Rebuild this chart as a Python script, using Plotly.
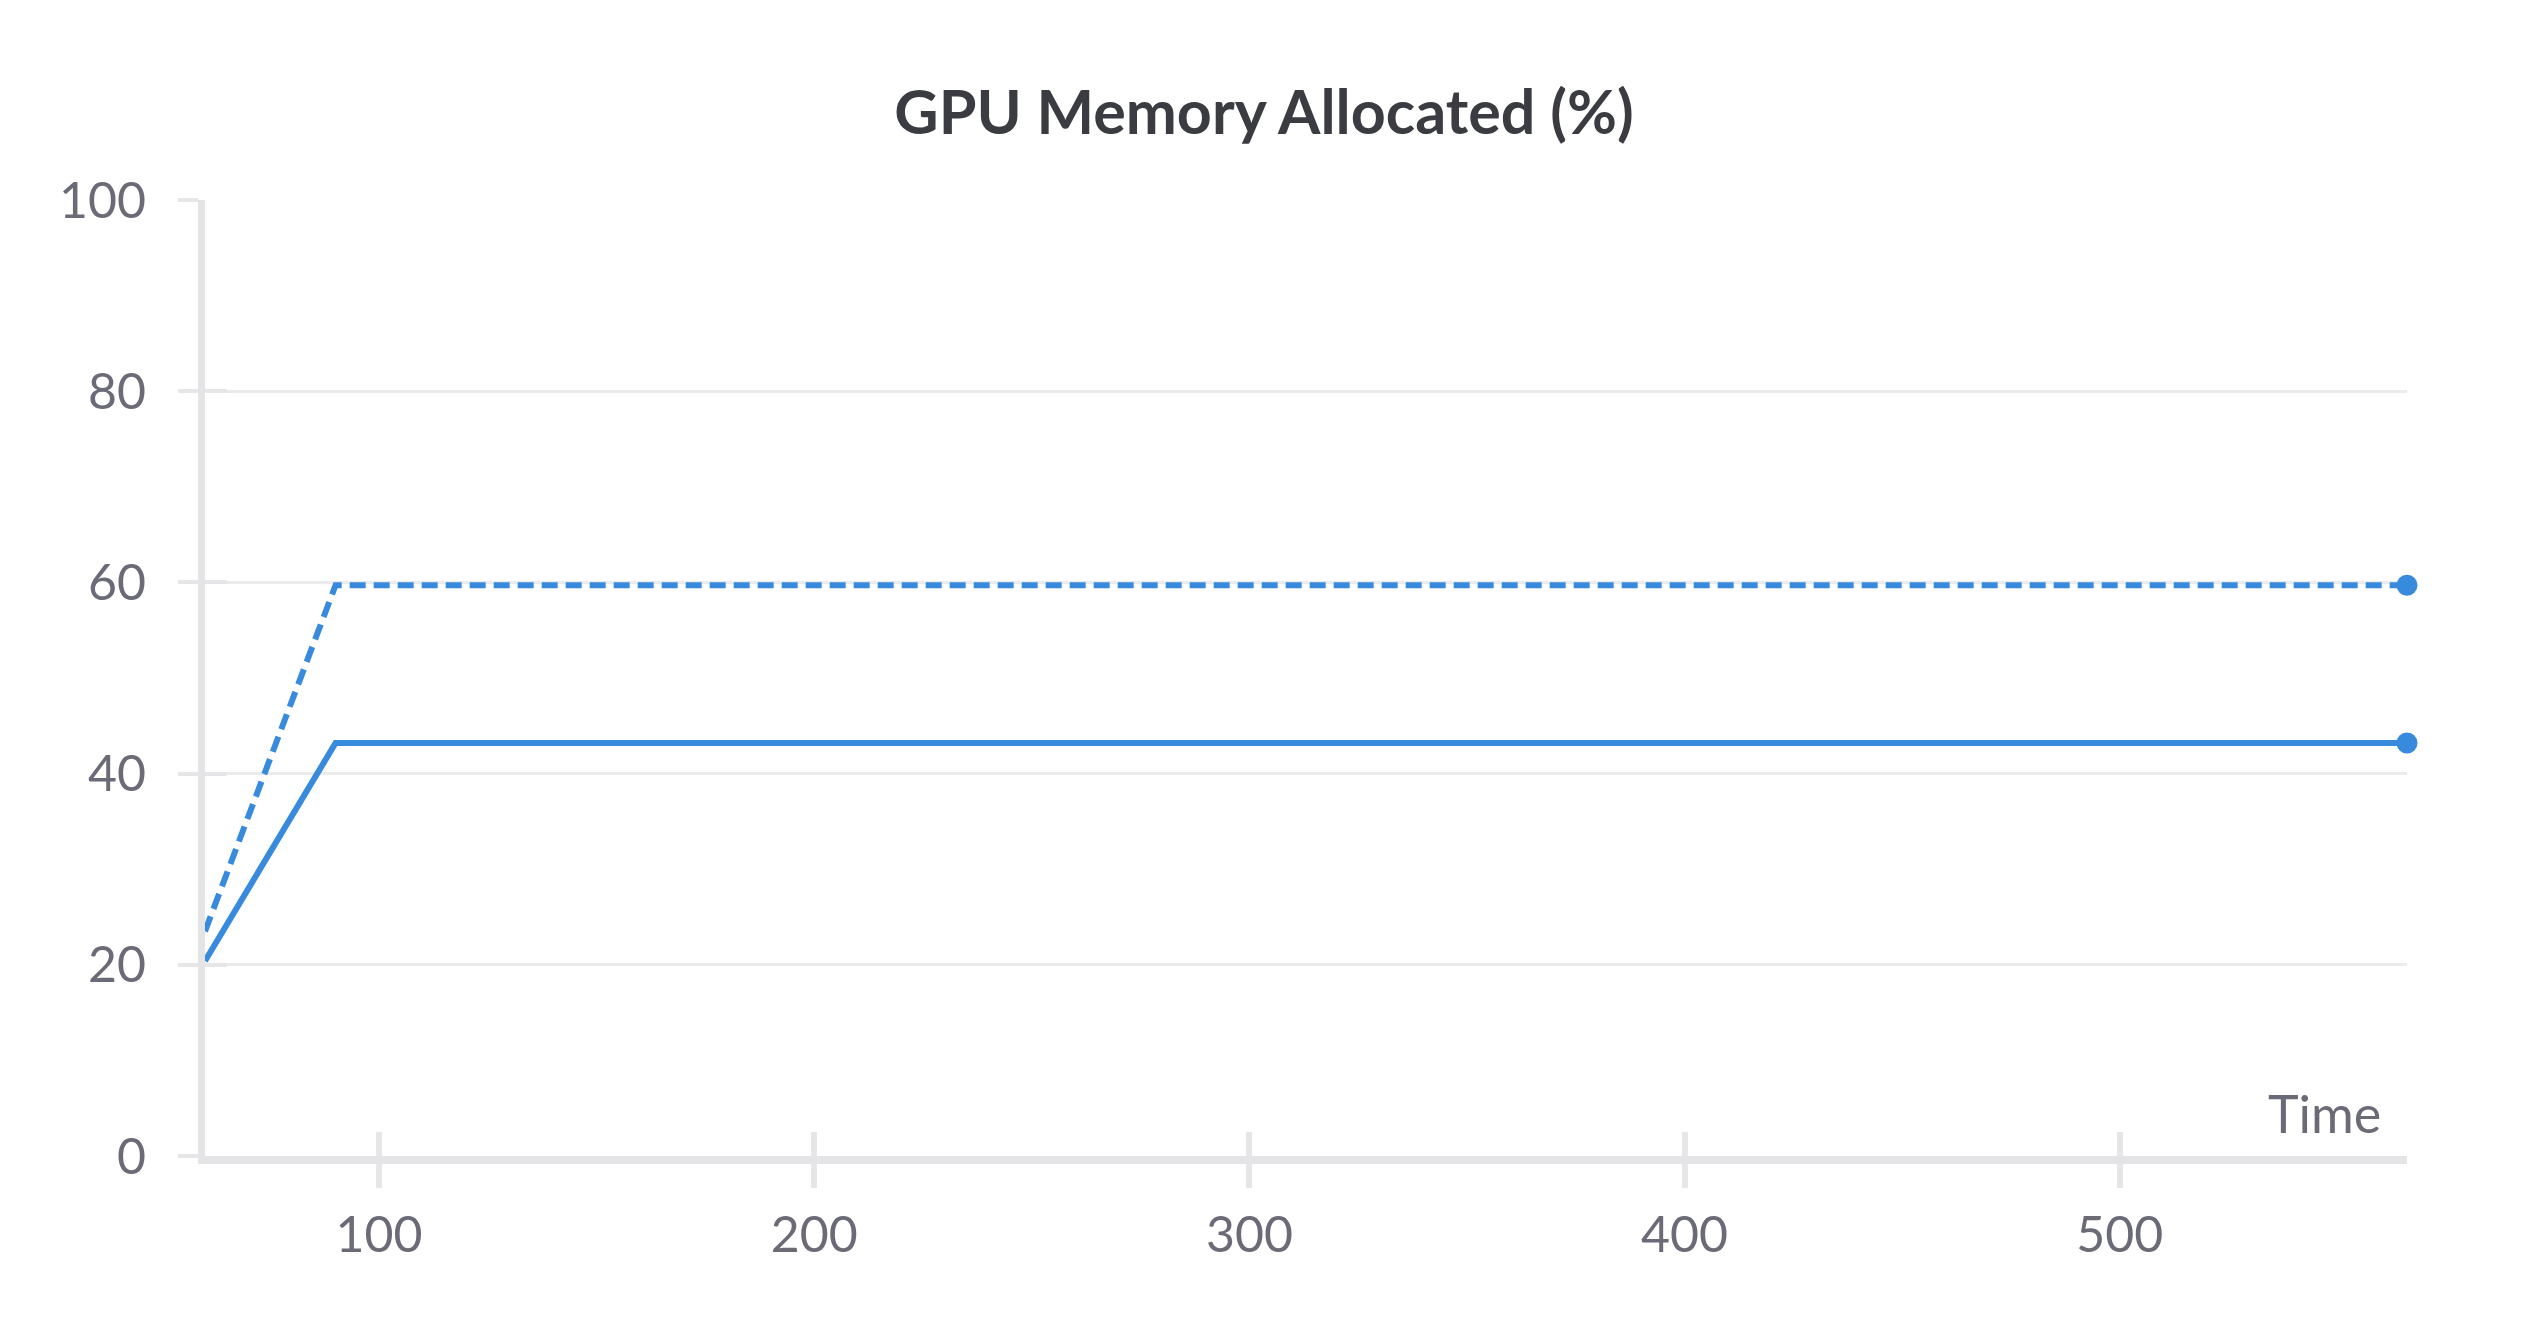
import plotly.graph_objects as go

# Data
time_solid = [60, 90, 566]
alloc_solid = [20.4, 43.2, 43.2]
time_dashed = [60, 90, 566]
alloc_dashed = [23.5, 59.7, 59.7]
x_ticks = [100, 200, 300, 400, 500]
y_ticks = [0, 20, 40, 60, 80, 100]

BLUE = "#388BDC"
GRID = "#ebebed"
TICKC = "#e6e6e8"
AXIS = "#e4e4e7"
TICKFONT = "#6b6b78"
FONT = "Lato, 'Open Sans', sans-serif"

fig = go.Figure()
fig.add_trace(go.Scatter(
    x=time_dashed, y=alloc_dashed, mode="lines+markers",
    line=dict(color=BLUE, width=6, dash="16px,8px"),
    marker=dict(size=[0, 0, 21], color=BLUE, opacity=1, line=dict(width=0)),
    cliponaxis=False, showlegend=False))
fig.add_trace(go.Scatter(
    x=time_solid, y=alloc_solid, mode="lines+markers",
    line=dict(color=BLUE, width=6),
    marker=dict(size=[0, 0, 21], color=BLUE, opacity=1, line=dict(width=0)),
    cliponaxis=False, showlegend=False))
# overlay axes for inward tick halves
fig.add_trace(go.Scatter(x=[60], y=[0], xaxis="x2", yaxis="y2", mode="markers",
                         marker=dict(size=0, opacity=0), showlegend=False,
                         hoverinfo="skip"))

xr = [60, 566]
yr = [0, 100]
fig.update_layout(
    width=2528, height=1328,
    paper_bgcolor="white", plot_bgcolor="white",
    margin=dict(l=205, r=121, t=200, b=172),
    font=dict(family=FONT),
    title=dict(text="<b>GPU Memory Allocated (%)</b>", x=0.5, xanchor="center",
               y=1 - 113 / 1328, yanchor="middle",
               font=dict(size=61, color="#3a3c41", family=FONT)),
    xaxis=dict(range=xr, tickvals=x_ticks, ticktext=[str(v) for v in x_ticks],
               showgrid=False, zeroline=False, showline=True, linecolor=AXIS,
               linewidth=8, ticks="outside", ticklen=24, tickwidth=6,
               tickcolor=TICKC, tickfont=dict(size=50, color=TICKFONT, family=FONT),
               ticklabelstandoff=4),
    xaxis2=dict(range=xr, overlaying="x", tickvals=x_ticks, showticklabels=False,
                showgrid=False, zeroline=False, showline=False, ticks="inside",
                ticklen=24, tickwidth=6, tickcolor=TICKC, side="bottom",
                anchor="y2"),
    yaxis=dict(range=yr, tickvals=y_ticks, showgrid=True, gridcolor=GRID,
               gridwidth=3, zeroline=False, showline=True, linecolor=AXIS,
               linewidth=7, ticks="outside", ticklen=20, tickwidth=4,
               tickcolor=TICKC, tickfont=dict(size=50, color=TICKFONT, family=FONT),
               ticklabelstandoff=22),
    yaxis2=dict(range=yr, overlaying="y", tickvals=y_ticks, showticklabels=False,
                showgrid=False, zeroline=False, showline=False, ticks="inside",
                ticklen=22, tickwidth=4, tickcolor=TICKC, side="left",
                anchor="x2"),
    annotations=[dict(text="Time", xref="paper", yref="paper", x=1 - 24 / 2202,
                      y=0, xanchor="right", yanchor="bottom", yshift=10,
                      showarrow=False,
                      font=dict(size=52, color=TICKFONT, family=FONT))],
)

fig.write_html("out.html", config={"displayModeBar": False},
               post_script="document.body.style.margin='0px';"
                           "document.body.style.overflow='hidden';")
